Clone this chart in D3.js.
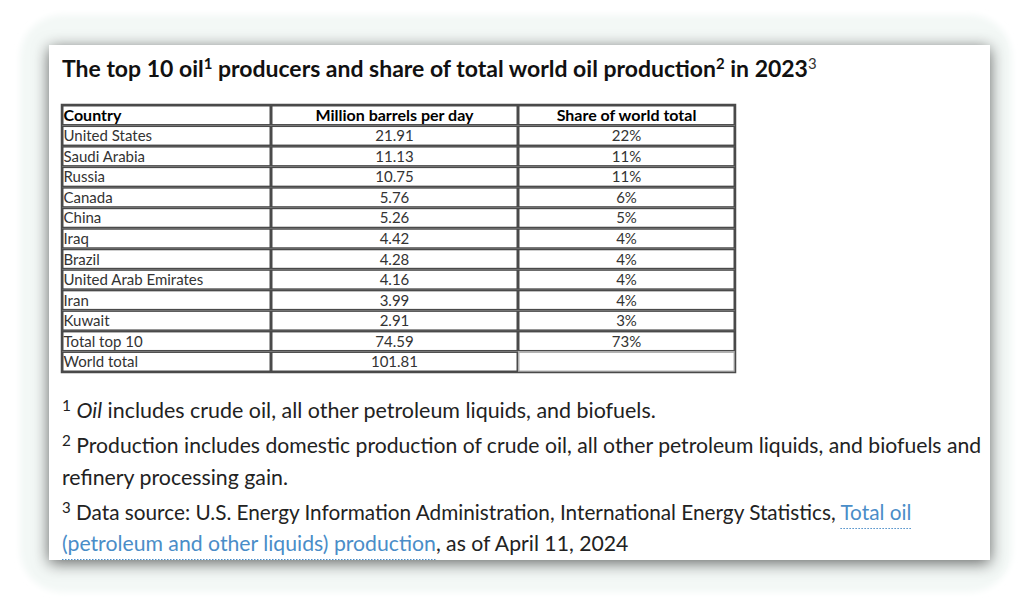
<!DOCTYPE html>
<html><head><meta charset="utf-8">
<script src="https://cdn.jsdelivr.net/npm/d3@7"></script>
<style>html,body{margin:0;padding:0;background:#fff;}svg{display:block;}</style>
</head><body>
<svg id="c" width="1024" height="612"></svg>
<script>
const countries = ["United States","Saudi Arabia","Russia","Canada","China","Iraq","Brazil","United Arab Emirates","Iran","Kuwait","Total top 10","World total"];
const barrels = [21.91,11.13,10.75,5.76,5.26,4.42,4.28,4.16,3.99,2.91,74.59,101.81];
const shares = ["22%","11%","11%","6%","5%","4%","4%","4%","4%","3%","73%",""];
const headers = ["Country","Million barrels per day","Share of world total"];

const svg = d3.select("#c");
const defs = svg.append("defs");
const f = defs.append("filter").attr("id","sh").attr("x","-10%").attr("y","-15%").attr("width","120%").attr("height","135%");
f.append("feDropShadow").attr("dx",0).attr("dy",3).attr("stdDeviation",8).attr("flood-color","#000").attr("flood-opacity",0.6);
const f2 = defs.append("filter").attr("id","glow").attr("x","-10%").attr("y","-10%").attr("width","120%").attr("height","120%");
f2.append("feGaussianBlur").attr("stdDeviation",3);

svg.append("rect").attr("x",20).attr("y",15).attr("width",992).attr("height",577).attr("rx",42)
  .attr("fill","#f3f8f6").attr("filter","url(#glow)");
svg.append("rect").attr("x",49).attr("y",45).attr("width",941).attr("height",515)
  .attr("fill","#fff").attr("filter","url(#sh)");

const font = "Lato, 'Open Sans', sans-serif";

function fit(sel, target){
  const n = sel.node();
  const w = n.getBBox().width;
  const fs = +sel.attr("font-size");
  sel.attr("font-size", fs*target/w);
  sel.selectAll("tspan.sup").each(function(){
    const s=d3.select(this); s.attr("font-size", +s.attr("font-size")*target/w);
  });
}

// title
const t = svg.append("text").attr("x",62).attr("y",77).attr("font-family",font).attr("font-weight",700)
  .attr("font-size",20).attr("fill","#111");
t.append("tspan").text("The top 10 oil");
t.append("tspan").attr("class","sup").attr("font-size",13).attr("dy",-8).text("1");
t.append("tspan").attr("dy",8).text(" producers and share of total world oil production");
t.append("tspan").attr("class","sup").attr("font-size",13).attr("dy",-8).text("2");
t.append("tspan").attr("dy",8).text(" in 2023");
t.append("tspan").attr("class","sup").attr("font-size",13).attr("dy",-8).attr("font-weight",400).attr("fill","#333").text("3");
fit(t, 755);

// table
const colEdges = [62,271,518,735];
const rowIdx = d3.range(countries.length+1);
const y = d3.scaleBand().domain(rowIdx).range([105,372]).padding(0);
const g = svg.append("g");
const rows = [headers].concat(countries.map((c,i)=>[c, barrels[i].toFixed(2), shares[i]]));
rows.forEach((r,ri)=>{
  r.forEach((v,ci)=>{
    const x0 = colEdges[ci], x1 = colEdges[ci+1];
    const y0 = y(ri), h = y.bandwidth();
    const empty = (v==="" && ri>0);
    g.append("rect").attr("x",x0+0.75).attr("y",y0+0.75).attr("width",x1-x0-1.5).attr("height",h-1.5)
      .attr("fill","#fff").attr("stroke", empty?"#b0b0b0":"#4a4a4a").attr("stroke-width",1.5);
    if(v!==""){
      const tx = g.append("text").attr("font-family",font).attr("font-size",15)
        .attr("y",y0+h/2+5.5).text(v);
      if(ri===0){ tx.attr("font-weight",700).attr("fill","#000").attr("font-size",16); }
      else tx.attr("fill","#333");
      if(ci===0) tx.attr("x",x0+1.5);
      else tx.attr("x",(x0+x1)/2).attr("text-anchor","middle");
    }
  });
});
g.append("rect").attr("x",61.5).attr("y",104.5).attr("width",674).attr("height",268).attr("fill","none")
  .attr("stroke","#4a4a4a").attr("stroke-width",1.5);

// footnotes
const fs = 18;
const linkCol = "#4a8dc8";
function note(yb, parts, target){
  const tx = svg.append("text").attr("x",62).attr("y",yb).attr("font-family",font).attr("font-size",fs).attr("fill","#222");
  parts.forEach(p=>{
    const s = tx.append("tspan").text(p.t);
    if(p.sup){ s.attr("class","sup").attr("font-size",13).attr("dy",-7); }
    if(p.after){ s.attr("dy",7); }
    if(p.i) s.attr("font-style","italic");
    if(p.link) s.attr("fill",linkCol).attr("class","link");
  });
  fit(tx, target);
  tx.selectAll("tspan.link").each(function(){
    const b = this.getBBox();
    svg.append("line").attr("x1",b.x).attr("x2",b.x+b.width).attr("y1",yb+8.5).attr("y2",yb+8.5)
      .attr("stroke",linkCol).attr("stroke-dasharray","1.5,1.5");
  });
  return tx;
}
note(418,[{t:"1",sup:1},{t:" ",after:1},{t:"Oil",i:1},{t:" includes crude oil, all other petroleum liquids, and biofuels."}], 594);
note(453,[{t:"2",sup:1},{t:" Production includes domestic production of crude oil, all other petroleum liquids, and biofuels and",after:1}], 920);
note(485,[{t:"refinery processing gain."}], 226);
note(520,[{t:"3",sup:1},{t:" Data source: U.S. Energy Information Administration, International Energy Statistics, ",after:1},{t:"Total oil",link:1}], 850);
note(551,[{t:"(petroleum and other liquids) production",link:1},{t:", as of April 11, 2024"}], 567);
</script>
</body></html>
